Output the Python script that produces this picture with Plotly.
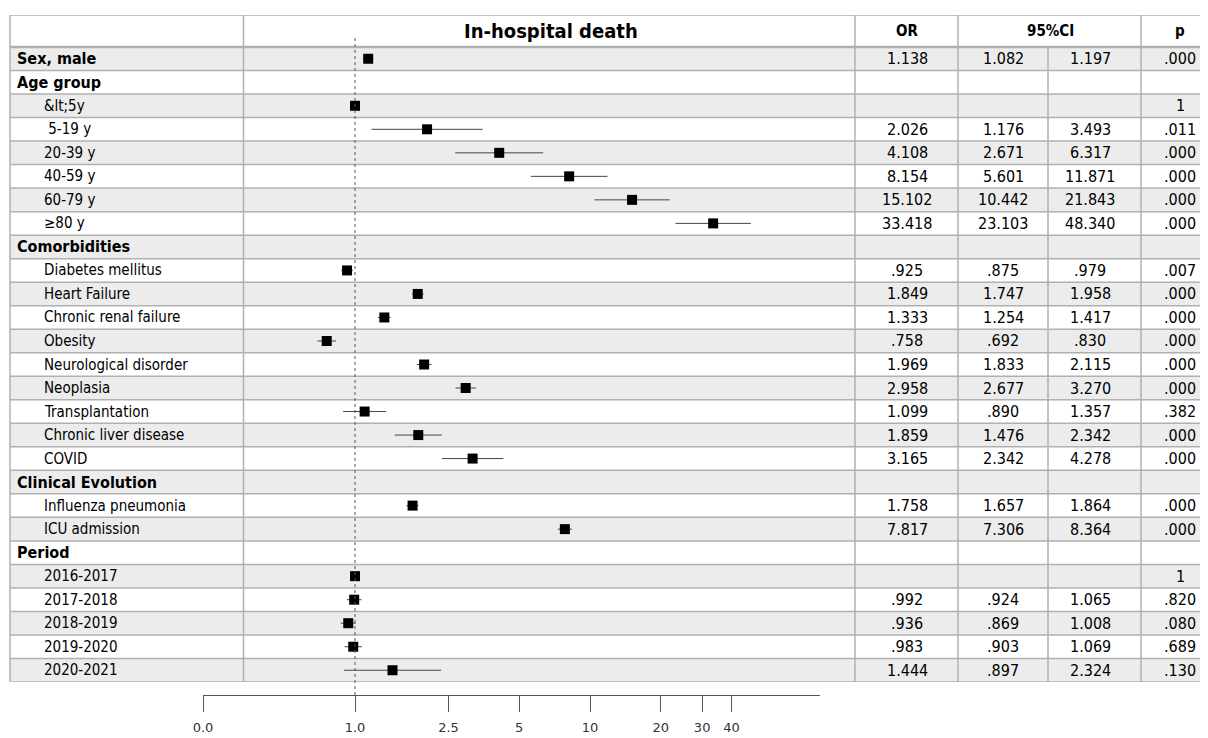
import plotly.graph_objects as go

# ---------------- data ----------------
labels = ["Sex, male", "Age group", "&lt;5y", " 5-19 y", "20-39 y", "40-59 y", "60-79 y", "≥80 y",
          "Comorbidities", "Diabetes mellitus", "Heart Failure", "Chronic renal failure", "Obesity",
          "Neurological disorder", "Neoplasia", "Transplantation", "Chronic liver disease", "COVID",
          "Clinical Evolution", "Influenza pneumonia", "ICU admission",
          "Period", "2016-2017", "2017-2018", "2018-2019", "2019-2020", "2020-2021"]
group_rows = ["Sex, male", "Age group", "Comorbidities", "Clinical Evolution", "Period"]
or_txt = ["1.138", "", "", "2.026", "4.108", "8.154", "15.102", "33.418",
          "", ".925", "1.849", "1.333", ".758", "1.969", "2.958", "1.099", "1.859", "3.165",
          "", "1.758", "7.817",
          "", "", ".992", ".936", ".983", "1.444"]
lo_txt = ["1.082", "", "", "1.176", "2.671", "5.601", "10.442", "23.103",
          "", ".875", "1.747", "1.254", ".692", "1.833", "2.677", ".890", "1.476", "2.342",
          "", "1.657", "7.306",
          "", "", ".924", ".869", ".903", ".897"]
hi_txt = ["1.197", "", "", "3.493", "6.317", "11.871", "21.843", "48.340",
          "", ".979", "1.958", "1.417", ".830", "2.115", "3.270", "1.357", "2.342", "4.278",
          "", "1.864", "8.364",
          "", "", "1.065", "1.008", "1.069", "2.324"]
p_txt = [".000", "", "1", ".011", ".000", ".000", ".000", ".000",
         "", ".007", ".000", ".000", ".000", ".000", ".000", ".382", ".000", ".000",
         "", ".000", ".000",
         "", "1", ".820", ".080", ".689", ".130"]
tick_vals_lbl = ["0.0", "1.0", "2.5", "5", "10", "20", "30", "40"]
tick_vals_num = [None, 1.0, 2.5, 5, 10, 20, 30, 40]
title_txt = "In-hospital death"
col_headers = ["OR", "95%CI", "p"]

# ---------------- geometry ----------------
W, H = 1208, 738
OFF = 8  # page body margin
def px(x):
    return (x - OFF) / W
def py(y):
    return 1 - (y - OFF) / H

row_h = (682 - 47) / 27.0
hdr_top = -0.5 - (47 - 15) / row_h
n = len(labels)

FONT = "Liberation Sans Narrow, DejaVu Sans Condensed, Arial Narrow, sans-serif"
GRID = "#b0b0b0"

# marker data
mx, my, ep, em = [], [], [], []
for i in range(n):
    if or_txt[i]:
        v = float(or_txt[i])
        mx.append(v); my.append(i)
        ep.append(float(hi_txt[i]) - v); em.append(v - float(lo_txt[i]))
    elif p_txt[i] == "1":
        mx.append(1.0); my.append(i); ep.append(0); em.append(0)

fig = go.Figure()
fig.add_trace(go.Scatter(
    x=mx, y=my, mode="markers",
    marker=dict(symbol="square", size=10, color="black"),
    error_x=dict(type="data", symmetric=False, array=ep, arrayminus=em,
                 color="#444444", thickness=1, width=0),
    hoverinfo="skip", showlegend=False, cliponaxis=False))

shapes = []
for i in range(n):
    if i % 2 == 0:
        shapes.append(dict(type="rect", xref="paper", yref="y", x0=px(10), x1=1,
                           y0=i - 0.5, y1=i + 0.5, fillcolor="#ececec",
                           line=dict(width=0), layer="below"))
shapes.append(dict(type="line", xref="paper", yref="y", x0=px(10), x1=1, y0=hdr_top, y1=hdr_top,
                   line=dict(color=GRID, width=1.5), layer="below"))
for i in range(n + 1):
    shapes.append(dict(type="line", xref="paper", yref="y", x0=px(10), x1=1,
                       y0=i - 0.5, y1=i - 0.5,
                       line=dict(color=GRID, width=2.5 if i == 0 else 1.5), layer="below"))
for xv in [10, 243.5, 855, 958, 1141]:
    shapes.append(dict(type="line", xref="paper", yref="y", x0=px(xv), x1=px(xv),
                       y0=hdr_top, y1=n - 0.5, line=dict(color=GRID, width=1.5), layer="below"))
shapes.append(dict(type="line", xref="paper", yref="y", x0=px(1048), x1=px(1048),
                   y0=-0.5, y1=n - 0.5, line=dict(color=GRID, width=1.5), layer="below"))
shapes.append(dict(type="line", xref="x", yref="paper", x0=1, x1=1, y0=py(695), y1=py(38),
                   line=dict(color="#555555", width=1, dash="dot")))

ann = []
hdr_mid = (hdr_top - 0.5) / 2
def add_text(x, y, text, size, anchor="center"):
    ann.append(dict(x=x, y=y, xref="paper", yref="y", text=text, showarrow=False,
                    xanchor=anchor, yanchor="middle",
                    font=dict(family=FONT, size=size, color="black")))

add_text(px(551), hdr_mid, "<b>%s</b>" % title_txt, 20)
for txt, xc in zip(col_headers, [907, 1050, 1180]):
    add_text(px(xc), hdr_mid, "<b>%s</b>" % txt, 15)
for i, lab in enumerate(labels):
    t = lab.replace("&", "&amp;").replace(" ", "\u00a0")
    if lab in group_rows:
        add_text(px(15), i, "<b>%s</b>" % t, 16, "left")
    else:
        add_text(px(42), i, t, 15, "left")
    for txt, xc in zip([or_txt[i], lo_txt[i], hi_txt[i], p_txt[i]], [907, 1003, 1090, 1180]):
        if txt:
            add_text(px(xc), i, txt, 16)

r0 = (203 - 355) / 235.0
r1 = (820 - 355) / 235.0
tv = [10 ** (r0 + 1e-6) if v is None else v for v in tick_vals_num]

fig.update_layout(
    width=W, height=H, margin=dict(l=0, r=0, t=0, b=0, autoexpand=False),
    paper_bgcolor="white", plot_bgcolor="rgba(0,0,0,0)",
    shapes=shapes, annotations=ann, showlegend=False,
    xaxis=dict(type="log", range=[r0, r1], domain=[px(203), px(820)], anchor="free",
               position=py(695), showline=True, linecolor="#555555", linewidth=1,
               ticks="outside", ticklen=16, tickcolor="#555555", tickwidth=1,
               tickvals=tv, ticktext=tick_vals_lbl, showgrid=False, zeroline=False,
               automargin=False, ticklabelstandoff=4,
               tickfont=dict(family="DejaVu Sans", size=13, color="#333333")),
    yaxis=dict(range=[n - 0.5, hdr_top], domain=[py(682), py(15)], visible=False,
               showgrid=False, zeroline=False, automargin=False),
)

fig.write_html("out.html")
